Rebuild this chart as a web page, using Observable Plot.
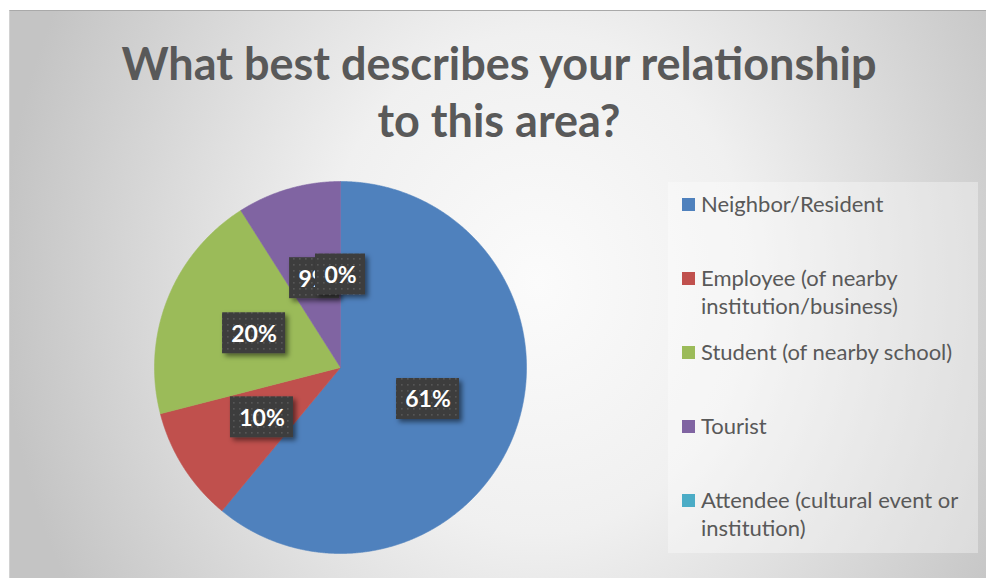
<!DOCTYPE html>
<html>
<head>
<meta charset="utf-8">
<script src="https://cdn.jsdelivr.net/npm/d3@7"></script>
<script src="https://cdn.jsdelivr.net/npm/@observablehq/plot@0.6"></script>
<style>
  html, body { margin: 0; padding: 0; background: #fff; }
  #page { position: relative; width: 986px; height: 578px; overflow: hidden; background: #fff; font-family: Lato, "Open Sans", sans-serif; }
  #chart {
    position: absolute; left: 9px; top: 10px; width: 977px; height: 568px; box-sizing: border-box;
    background: radial-gradient(ellipse 55% 110% at 54% 48%, #fbfbfb 0%, #f0f0f0 40%, #c4c4c4 100%);
    border-top: 1px solid #a9a9a9; border-left: 1px solid #d2d2d2;
  }
  #title { position: absolute; left: 0; top: 24px; width: 986px; margin-left: -4px; text-align: center; color: #595959; font-weight: 700; font-size: 45px; line-height: 57px; }
  #legend { position: absolute; left: 658px; top: 171px; width: 310px; height: 371px; background: rgba(255,255,255,0.35); }
  .item { position: absolute; left: 14px; width: 292px; color: #595959; font-size: 22px; line-height: 28px; }
  .sw { position: absolute; left: 0; top: 8px; width: 13px; height: 13px; }
  .txt { position: absolute; left: 19px; width: 275px; }
  #plot { position: absolute; left: -1px; top: -1px; }
  #defs { position: absolute; width: 0; height: 0; }
</style>
</head>
<body>
<div id="page">
  <svg id="defs" width="0" height="0">
    <defs>
      <pattern id="dots" width="6" height="6" patternUnits="userSpaceOnUse">
        <rect width="6" height="6" fill="#3e3e3e"></rect>
        <rect x="2" y="2" width="1.6" height="1.6" fill="#575757"></rect>
      </pattern>
      <filter id="shadow" x="-30%" y="-30%" width="170%" height="170%">
        <feDropShadow dx="3" dy="3" stdDeviation="2.5" flood-color="#000" flood-opacity="0.5"></feDropShadow>
      </filter>
    </defs>
  </svg>
  <div id="chart">
    <div id="title"></div>
    <div id="legend"></div>
    <div id="plot"></div>
  </div>
</div>
<script>
// Survey answers: share of respondents per relationship (%)
const titleLines = ["What best describes your relationship", "to this area?"];
const categories = [
  "Neighbor/Resident",
  "Employee (of nearby institution/business)",
  "Student (of nearby school)",
  "Tourist",
  "Attendee (cultural event or institution)"
];
const shares = [61, 10, 20, 9, 0];
const labels = ["61%", "10%", "20%", "9%", "0%"];
const colors = ["#4f81bd", "#c0504d", "#9bbb59", "#8064a2", "#4bacc6"];

// Title
document.getElementById("title").innerHTML = titleLines.map(t => `<div>${t}</div>`).join("");

// Legend
const legend = document.getElementById("legend");
categories.forEach((c, i) => {
  const item = document.createElement("div");
  item.className = "item";
  item.style.top = (8 + i * 74) + "px";
  item.innerHTML = `<div class="sw" style="background:${colors[i]}"></div><div class="txt">${c}</div>`;
  legend.appendChild(item);
});

// Slice angles, clockwise from 12 o'clock
const total = d3.sum(shares);
let acc = 0;
const slices = categories.map((name, i) => {
  const a0 = acc / total * 2 * Math.PI;
  acc += shares[i];
  const a1 = acc / total * 2 * Math.PI;
  return {name, value: shares[i], label: labels[i], a0, a1, mid: (a0 + a1) / 2};
});

// Polygon outline of each wedge: centre, arc, centre
const outline = [];
for (const s of slices) {
  if (s.a1 <= s.a0) continue;
  outline.push({name: s.name, x: 0, y: 0});
  const n = Math.max(2, Math.ceil((s.a1 - s.a0) / (Math.PI / 720)));
  for (let k = 0; k <= n; k++) {
    const a = s.a0 + (s.a1 - s.a0) * k / n;
    outline.push({name: s.name, x: Math.sin(a), y: Math.cos(a)});
  }
  outline.push({name: s.name, x: 0, y: 0});
}

// Data labels sit halfway out along each wedge's bisector
const labelPts = slices.map(s => ({...s, lx: 0.5 * Math.sin(s.mid), ly: 0.5 * Math.cos(s.mid)}));

const cx = 331, cy = 357, r = 186;
const labelMarks = labelPts.flatMap(d => {
  const w = d.label.length === 2 ? 50 : 63, h = 41;
  return [
    Plot.rect([d], {
      x1: "lx", x2: "lx", y1: "ly", y2: "ly",
      insetLeft: -w / 2, insetRight: -w / 2, insetTop: -h / 2, insetBottom: -h / 2,
      fill: "url(#dots)"
    }),
    Plot.text([d], {
      x: "lx", y: "ly", text: "label",
      fill: "white", fontSize: 23, fontWeight: "bold", dy: 1
    })
  ];
});

const chart = Plot.plot({
  width: 977,
  height: 568,
  margin: 0,
  style: {background: "transparent", fontFamily: "Lato, 'Open Sans', sans-serif", overflow: "visible"},
  x: {domain: [-1, 1], range: [cx - r, cx + r], axis: null},
  y: {domain: [-1, 1], range: [cy + r, cy - r], axis: null},
  color: {type: "ordinal", domain: categories, range: colors},
  marks: [
    Plot.line(outline, {x: "x", y: "y", z: "name", fill: "name", stroke: "name", strokeWidth: 0.6, curve: "linear"}),
    ...labelMarks
  ]
});
chart.querySelectorAll('g[aria-label="rect"]').forEach(g => g.setAttribute("filter", "url(#shadow)"));
document.getElementById("plot").appendChild(chart);
</script>
</body>
</html>
